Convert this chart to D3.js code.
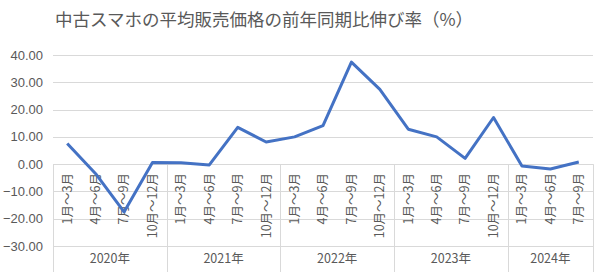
<!DOCTYPE html>
<html>
<head>
<meta charset="utf-8">
<script src="https://cdn.jsdelivr.net/npm/d3@7"></script>
<style>
  body { margin: 0; background: #fff; }
  svg { font-family: "Noto Sans CJK JP", "Noto Sans", sans-serif; }
</style>
</head>
<body>
<svg id="chart" width="600" height="272"></svg>
<script>
var years = ["2020年", "2021年", "2022年", "2023年", "2024年"];
var quarterCounts = [4, 4, 4, 4, 3];
var quarterLabels = ["1月～3月", "4月～6月", "7月～9月", "10月～12月"];
var values = [7.6, -3.5, -17.5, 0.6, 0.5, -0.3, 13.5, 8.1, 10.0, 14.1, 37.4, 27.4,
              12.8, 10.0, 2.1, 17.1, -0.7, -1.8, 0.8];
var yTicks = [40, 30, 20, 10, 0, -10, -20, -30];

var svg = d3.select("#chart");
var width = 600, height = 272;
var margin = {top: 55, right: 7, bottom: 26, left: 53};

// build category list
var cats = [];
years.forEach(function(y, yi) {
  for (var q = 0; q < quarterCounts[yi]; q++) {
    cats.push({year: y, yi: yi, label: quarterLabels[q], key: yi + "-" + q});
  }
});
cats.forEach(function(c, i) { c.value = values[i]; });

var x = d3.scaleBand()
  .domain(cats.map(d => d.key))
  .range([margin.left, width - margin.right]);

var y = d3.scaleLinear()
  .domain([-30, 40])
  .range([246, 55]);

var gridColor = "#d9d9d9";
var textColor = "#595959";

// title
svg.append("text")
  .attr("x", 264)
  .attr("y", 26)
  .attr("text-anchor", "middle")
  .attr("fill", textColor)
  .style("font-size", "17.5px")
  .text("中古スマホの平均販売価格の前年同期比伸び率（%）");

// gridlines
svg.append("g")
  .selectAll("line")
  .data(yTicks)
  .enter().append("line")
  .attr("x1", margin.left)
  .attr("x2", width - margin.right)
  .attr("y1", d => Math.round(y(d)) + 0.5)
  .attr("y2", d => Math.round(y(d)) + 0.5)
  .attr("stroke", gridColor)
  .attr("stroke-width", 1);

// y labels
svg.append("g")
  .selectAll("text")
  .data(yTicks)
  .enter().append("text")
  .attr("x", 43)
  .attr("y", d => y(d))
  .attr("dy", "0.35em")
  .attr("text-anchor", "end")
  .attr("fill", textColor)
  .style("font-family", "'Liberation Sans', Arial, sans-serif")
  .style("font-size", "13px")
  .text(d => d3.format(".2f")(d));

// year separators
var bounds = [0];
var acc = 0;
quarterCounts.forEach(function(n) { acc += n; bounds.push(acc); });
var step = x.step();
svg.append("g")
  .selectAll("line")
  .data(bounds)
  .enter().append("line")
  .attr("x1", d => Math.round(margin.left + d * step) + 0.5)
  .attr("x2", d => Math.round(margin.left + d * step) + 0.5)
  .attr("y1", y(0))
  .attr("y2", height)
  .attr("stroke", gridColor);

// quarter labels
svg.append("g")
  .selectAll("text")
  .data(cats)
  .enter().append("text")
  .attr("transform", d => "translate(" + (x(d.key) + x.bandwidth() / 2) + ",173) rotate(-90)")
  .attr("dy", "0.35em")
  .attr("text-anchor", "end")
  .attr("fill", textColor)
  .style("font-size", "12.5px")
  .text(d => d.label);

// year labels
svg.append("g")
  .selectAll("text")
  .data(years)
  .enter().append("text")
  .attr("x", (d, i) => margin.left + (bounds[i] + bounds[i + 1]) / 2 * step)
  .attr("y", 263)
  .attr("text-anchor", "middle")
  .attr("fill", textColor)
  .style("font-size", "12.5px")
  .text(d => d);

// line
var line = d3.line()
  .x(d => x(d.key) + x.bandwidth() / 2)
  .y(d => y(d.value));

svg.append("path")
  .datum(cats)
  .attr("fill", "none")
  .attr("stroke", "#4472C4")
  .attr("stroke-width", 3)
  .attr("stroke-linejoin", "round")
  .attr("d", line);
</script>
</body>
</html>
